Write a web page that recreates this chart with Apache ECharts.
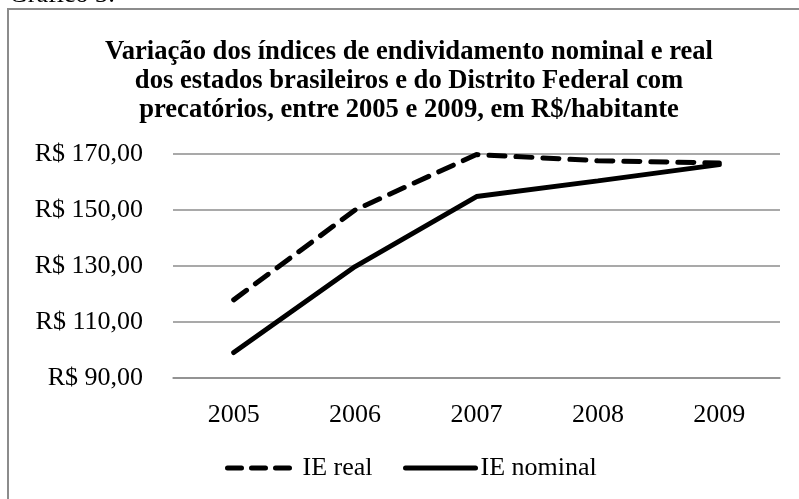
<!DOCTYPE html>
<html>
<head>
<meta charset="utf-8">
<script src="https://cdn.jsdelivr.net/npm/echarts@6/dist/echarts.min.js"></script>
<style>
  html, body { margin: 0; padding: 0; background: #fff; }
  #chart { width: 799px; height: 499px; }
</style>
</head>
<body>
<div id="chart"></div>
<script>
var years = ['2005', '2006', '2007', '2008', '2009'];
var ieReal = [117.9, 150.0, 169.8, 167.6, 166.8];
var ieNominal = [99.1, 129.8, 154.8, 160.4, 166.2];
var yTicks = [90, 110, 130, 150, 170];

var serif = '"Liberation Serif", "Times New Roman", serif';

function money(v) {
    return 'R$ ' + v.toFixed(2).replace('.', ',');
}

var chart = echarts.init(document.getElementById('chart'));

var option = {
    animation: false,
    backgroundColor: '#fff',
    title: {
        text: 'Variação dos índices de endividamento nominal e real\ndos estados brasileiros e do Distrito Federal com\nprecatórios, entre 2005 e 2009, em R$/habitante',
        left: 404,
        textAlign: 'center',
        top: 33,
        textStyle: {
            fontFamily: serif,
            fontSize: 26.6,
            fontWeight: 'bold',
            color: '#000',
            lineHeight: 29
        }
    },
    graphic: [
        {
            type: 'rect',
            shape: { x: 8, y: 9, width: 900, height: 900 },
            style: { fill: 'none', stroke: '#8c8c8c', lineWidth: 2 }
        },
        {
            type: 'text',
            style: {
                text: 'Gráfico 3:',
                x: 9,
                y: 8,
                textVerticalAlign: 'bottom',
                font: '26px ' + serif,
                fill: '#000'
            }
        }
    ],
    legend: [
        {
            data: ['IE real'],
            left: 220,
            top: 450,
            itemWidth: 62,
            itemHeight: 14,
            itemStyle: { opacity: 0 },
            lineStyle: { width: 5, type: [14, 10], cap: 'round', color: '#000' },
            textStyle: { fontFamily: serif, fontSize: 26, color: '#000', padding: [0, 0, 0, 8] }
        },
        {
            data: ['IE nominal'],
            left: 398,
            top: 450,
            itemWidth: 70,
            itemHeight: 14,
            itemStyle: { opacity: 0 },
            lineStyle: { width: 5, type: 'solid', cap: 'round', color: '#000' },
            textStyle: { fontFamily: serif, fontSize: 26, color: '#000' }
        }
    ],
    grid: {
        left: 173,
        right: 19,
        top: 154,
        bottom: 121
    },
    xAxis: {
        type: 'category',
        boundaryGap: true,
        data: years,
        axisLine: { show: true, lineStyle: { color: '#8c8c8c', width: 1.5 } },
        axisTick: { show: false },
        axisLabel: { margin: 24, fontFamily: serif, fontSize: 26, color: '#000' }
    },
    yAxis: {
        type: 'value',
        min: yTicks[0],
        max: yTicks[yTicks.length - 1],
        interval: 20,
        axisLine: { show: false },
        axisTick: { show: false },
        splitLine: { lineStyle: { color: '#8c8c8c', width: 1.5 } },
        axisLabel: {
            margin: 30,
            fontFamily: serif,
            fontSize: 26,
            color: '#000',
            formatter: money
        }
    },
    series: [
        {
            name: 'IE real',
            type: 'line',
            data: ieReal,
            symbol: 'none',
            color: '#000',
            lineStyle: { color: '#000', width: 5, type: [16, 11], cap: 'round' }
        },
        {
            name: 'IE nominal',
            type: 'line',
            data: ieNominal,
            symbol: 'none',
            color: '#000',
            lineStyle: { color: '#000', width: 5, type: 'solid', cap: 'round' }
        }
    ]
};

chart.setOption(option);
</script>
</body>
</html>
